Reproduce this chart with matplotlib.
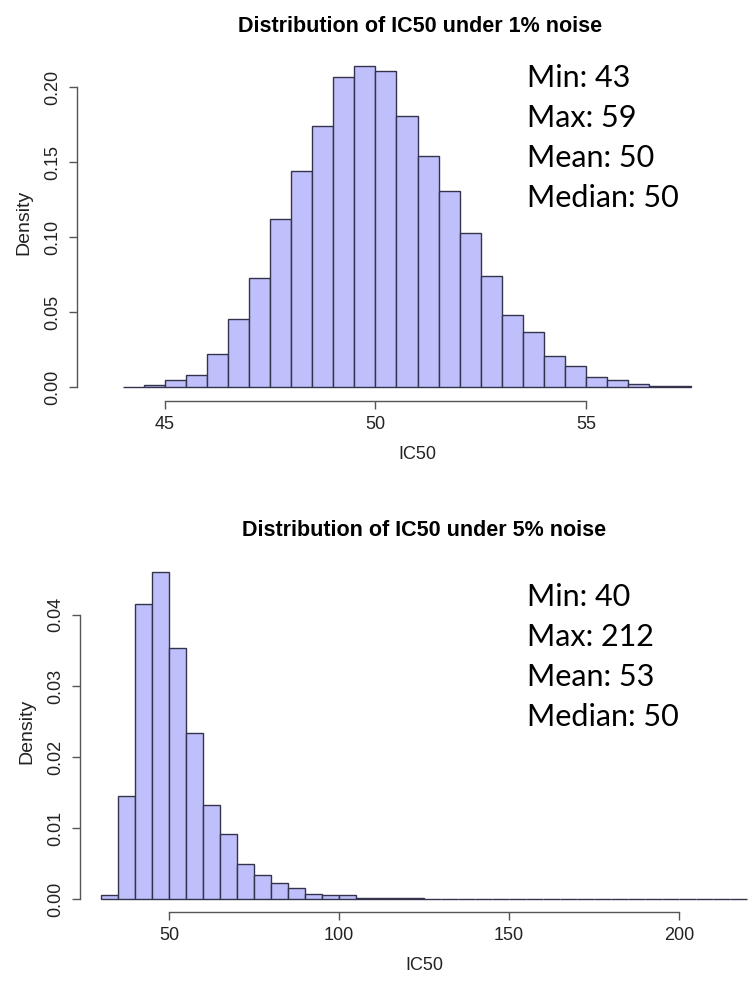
import matplotlib
matplotlib.use("Agg")
import matplotlib.pyplot as plt
import numpy as np

# ---------- DATA ----------
# 1% noise: bins of 0.5 starting at 44.0
bins_1pct_start = 44.0
bins_1pct_width = 0.5
density_1pct = [0.0002, 0.0013, 0.005, 0.0078, 0.022, 0.0455, 0.073, 0.112,
                0.144, 0.174, 0.207, 0.214, 0.211, 0.181, 0.154, 0.131,
                0.103, 0.074, 0.048, 0.037, 0.021, 0.014, 0.0066, 0.0048,
                0.0022, 0.0007, 0.0010]
xticks_1pct = [45, 50, 55]
yticks_1pct = [0.00, 0.05, 0.10, 0.15, 0.20]
stats_1pct = ["Min: 43", "Max: 59", "Mean: 50", "Median: 50"]

# 5% noise: bins of 5 starting at 30
bins_5pct_start = 30
bins_5pct_width = 5
density_5pct = [0.0006, 0.0145, 0.0415, 0.046, 0.0354, 0.0234, 0.0133, 0.0092,
                0.0049, 0.0034, 0.0023, 0.0015, 0.0007, 0.0005, 0.0005, 0.0002,
                0.0002, 0.0002, 0.0001, 0.00005, 0.00005, 0.00005, 0.00005,
                0.00005, 0.00005, 0.00005, 0.00005, 0.00003, 0.00003, 0.00003,
                0.00003, 0.00003, 0.00003, 0.00003, 0.00002, 0.00002, 0.00002,
                0.00002]
xticks_5pct = [50, 100, 150, 200]
yticks_5pct = [0.00, 0.01, 0.02, 0.03, 0.04]
stats_5pct = ["Min: 40", "Max: 212", "Mean: 53", "Median: 50"]

W, H = 750, 986
FILL = "#bfbffb"
EDGE = "#33334d"
AXC = "#555555"
TXT = "#222222"


def px_rect(left, top, right, bottom):
    return [left / W, 1 - bottom / H, (right - left) / W, (bottom - top) / H]


def draw_hist(ax, start, width, dens, xlim, ylim, xticks, yticks):
    dens = np.asarray(dens)
    left_edges = start + width * np.arange(len(dens))
    ax.bar(left_edges, dens, width=width, align="edge",
           color=FILL, edgecolor=EDGE, linewidth=1.0)
    ax.set_xlim(*xlim)
    ax.set_ylim(*ylim)
    for s in ["top", "right"]:
        ax.spines[s].set_visible(False)
    ax.spines["left"].set_bounds(yticks[0], yticks[-1])
    ax.spines["bottom"].set_bounds(xticks[0], xticks[-1])
    for s in ["left", "bottom"]:
        ax.spines[s].set_color(AXC)
        ax.spines[s].set_linewidth(1.0)
    ax.set_xticks(xticks)
    ax.set_xticklabels([str(t) for t in xticks])
    ax.set_yticks(yticks)
    ax.set_yticklabels(["%.2f" % t for t in yticks], rotation=90, va="center")
    ax.tick_params(axis="both", length=6, width=1.0, color=AXC,
                   labelsize=13, labelcolor=TXT, pad=5)
    ax.set_xlabel("IC50", fontsize=13, color=TXT, labelpad=9)
    ax.set_ylabel("Density", fontsize=14, color=TXT, labelpad=9)


fig = plt.figure(figsize=(W / 100, H / 100), dpi=100)
plt.rcParams["font.family"] = ["Liberation Sans", "DejaVu Sans"]

# top panel: 1500 px per density unit, 42.1 px per IC50 unit
ax1 = fig.add_axes(px_rect(77, 43, 758, 401))
draw_hist(ax1, bins_1pct_start, bins_1pct_width, density_1pct,
          (42.91, 59.09), (-0.0093, 0.2294), xticks_1pct, yticks_1pct)

# bottom panel: 7100 px per density unit, 3.4 px per IC50 unit
ax2 = fig.add_axes(px_rect(80, 551, 768, 912))
draw_hist(ax2, bins_5pct_start, bins_5pct_width, density_5pct,
          (23.8, 226.2), (-0.00183, 0.049), xticks_5pct, yticks_5pct)

# titles placed by pixel position
fig.text(420 / W, 1 - 27 / H, "Distribution of IC50 under 1% noise",
         ha="center", va="center", fontsize=15.5, fontweight="bold")
fig.text(424 / W, 1 - 530 / H, "Distribution of IC50 under 5% noise",
         ha="center", va="center", fontsize=15.5, fontweight="bold")

# summary statistics text
for i, line in enumerate(stats_1pct):
    fig.text(527 / W, 1 - (78 + 40 * i) / H, line, ha="left", va="center",
             fontsize=22, family=["Lato", "DejaVu Sans"])
for i, line in enumerate(stats_5pct):
    fig.text(527 / W, 1 - (597 + 40 * i) / H, line, ha="left", va="center",
             fontsize=22, family=["Lato", "DejaVu Sans"])

fig.savefig("out.png", dpi=100, facecolor="white")
